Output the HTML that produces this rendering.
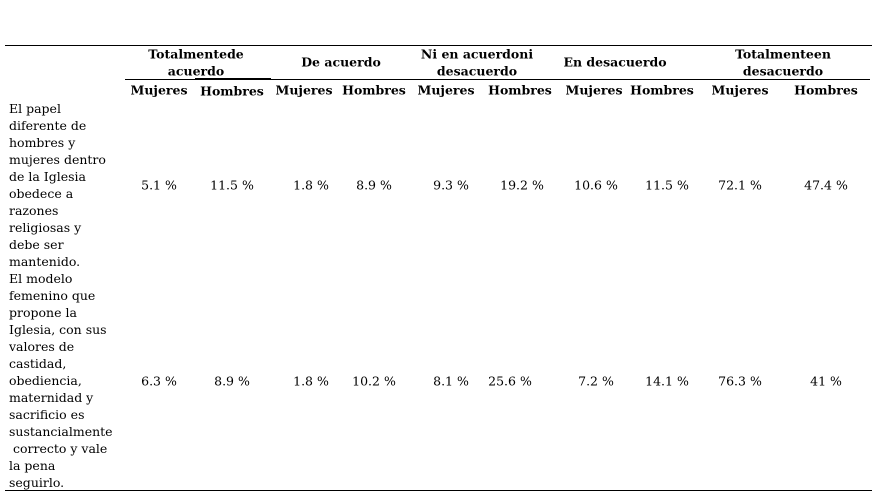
<!DOCTYPE html><html><head><style>
body{margin:0;width:877px;height:497px;background:#fff;position:relative;font-family:"DejaVu Serif",serif;font-size:12.5px;color:#000}
.t{position:absolute;white-space:nowrap;transform:translate(-50%,-50%)}
.b{font-weight:bold;font-size:12.5px}
.l{position:absolute;left:9px;line-height:17px;white-space:pre}
.ln{position:absolute;background:#000;height:1px}
</style></head><body>
<div class="ln" style="left:5px;width:867px;top:45px"></div>
<div class="ln" style="left:125px;width:745px;top:79px"></div>
<div class="ln" style="left:195px;width:76px;top:78px;height:2px"></div>
<div class="ln" style="left:5px;width:867px;top:490px"></div>
<div class="t b" style="left:196px;top:54px">Totalmentede</div>
<div class="t b" style="left:196px;top:71px">acuerdo</div>
<div class="t b" style="left:341px;top:62px">De acuerdo</div>
<div class="t b" style="left:477px;top:54px">Ni en acuerdoni</div>
<div class="t b" style="left:477px;top:71px">desacuerdo</div>
<div class="t b" style="left:615px;top:62px">En desacuerdo</div>
<div class="t b" style="left:783px;top:54px">Totalmenteen</div>
<div class="t b" style="left:783px;top:71px">desacuerdo</div>
<div class="t b" style="left:159px;top:90px">Mujeres</div>
<div class="t b" style="left:232px;top:91px">Hombres</div>
<div class="t b" style="left:304px;top:90px">Mujeres</div>
<div class="t b" style="left:374px;top:90px">Hombres</div>
<div class="t b" style="left:446px;top:90px">Mujeres</div>
<div class="t b" style="left:520px;top:90px">Hombres</div>
<div class="t b" style="left:594px;top:90px">Mujeres</div>
<div class="t b" style="left:662px;top:90px">Hombres</div>
<div class="t b" style="left:740px;top:90px">Mujeres</div>
<div class="t b" style="left:826px;top:90px">Hombres</div>
<div class="t" style="left:159px;top:185px">5.1 %</div>
<div class="t" style="left:232px;top:185px">11.5 %</div>
<div class="t" style="left:311px;top:185px">1.8 %</div>
<div class="t" style="left:374px;top:185px">8.9 %</div>
<div class="t" style="left:451px;top:185px">9.3 %</div>
<div class="t" style="left:522px;top:185px">19.2 %</div>
<div class="t" style="left:596px;top:185px">10.6 %</div>
<div class="t" style="left:667px;top:185px">11.5 %</div>
<div class="t" style="left:740px;top:185px">72.1 %</div>
<div class="t" style="left:826px;top:185px">47.4 %</div>
<div class="t" style="left:159px;top:381px">6.3 %</div>
<div class="t" style="left:232px;top:381px">8.9 %</div>
<div class="t" style="left:311px;top:381px">1.8 %</div>
<div class="t" style="left:374px;top:381px">10.2 %</div>
<div class="t" style="left:451px;top:381px">8.1 %</div>
<div class="t" style="left:510px;top:381px">25.6 %</div>
<div class="t" style="left:596px;top:381px">7.2 %</div>
<div class="t" style="left:667px;top:381px">14.1 %</div>
<div class="t" style="left:740px;top:381px">76.3 %</div>
<div class="t" style="left:826px;top:381px">41 %</div>
<div class="l" style="top:100px">El papel
diferente de
hombres y
mujeres dentro
de la Iglesia
obedece a
razones
religiosas y
debe ser
mantenido.
El modelo
femenino que
propone la
Iglesia, con sus
valores de
castidad,
obediencia,
maternidad y
sacrificio es
sustancialmente
 correcto y vale
la pena
seguirlo.</div>
</body></html>
